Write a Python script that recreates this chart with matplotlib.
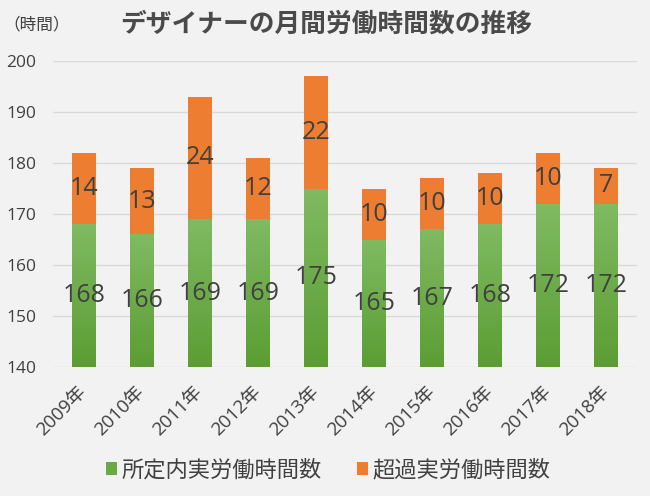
import matplotlib
matplotlib.use("Agg")
import matplotlib.pyplot as plt
import numpy as np
from matplotlib.colors import LinearSegmentedColormap

plt.rcParams['font.family'] = ['Noto Sans CJK JP', 'DejaVu Sans']

years = ['2009年', '2010年', '2011年', '2012年', '2013年', '2014年', '2015年', '2016年', '2017年', '2018年']
regular = [168, 166, 169, 169, 175, 165, 167, 168, 172, 172]
overtime = [14, 13, 24, 12, 22, 10, 10, 10, 10, 7]

bg = '#f2f2f2'
txt = '#404040'
green = '#6aaa42'
orange = '#ed7d31'
ymin = 140
num_font = ['Open Sans', 'Noto Sans CJK JP']

fig = plt.figure(figsize=(6.5, 4.96), dpi=100, facecolor=bg)
ax = fig.add_axes([0.0815, 0.26, 0.8985, 0.617], facecolor=bg)

x = np.arange(len(years))
w = 0.41
base = [r - ymin for r in regular]
g = ax.bar(x, base, w, bottom=ymin, color=green, label='所定内実労働時間数', zorder=2)
o = ax.bar(x, overtime, w, bottom=regular, color=orange, label='超過実労働時間数', zorder=2)

# green gradient, lighter at the top
cmap = LinearSegmentedColormap.from_list('g', ['#5b9d33', '#80ba62'])
grad = np.linspace(0, 1, 256).reshape(-1, 1)
for bar in g:
    bx, by = bar.get_x(), bar.get_y()
    bw, bh = bar.get_width(), bar.get_height()
    im = ax.imshow(grad, cmap=cmap, origin='lower', aspect='auto',
                   extent=[bx, bx + bw, by, by + bh], zorder=2.5)
    im.set_clip_path(bar)

for i in range(len(years)):
    ax.text(x[i], (ymin + regular[i]) / 2, str(regular[i]), ha='center', va='center',
            fontsize=18, color=txt, zorder=4, family=num_font)
    ax.text(x[i], regular[i] + overtime[i] / 2, str(overtime[i]), ha='center', va='center',
            fontsize=18, color=txt, zorder=4, family=num_font)

ax.set_ylim(140, 200)
ax.set_yticks(range(140, 201, 10))
ax.set_xlim(-0.53, 9.53)
ax.set_xticks(x)
ax.set_xticklabels(years, rotation=45, ha='right', va='center', rotation_mode='anchor')
for lab in ax.get_xticklabels() + ax.get_yticklabels():
    lab.set_family(num_font)
ax.tick_params(axis='both', length=0, labelsize=12.5, colors=txt)
ax.tick_params(axis='x', pad=16, labelsize=13.5)
ax.tick_params(axis='y', pad=12)
ax.grid(axis='y', color='#d9d9d9', linewidth=1, zorder=0)
for s in ax.spines.values():
    s.set_visible(False)

fig.text(0.502, 0.952, 'デザイナーの月間労働時間数の推移', ha='center', va='center',
         fontsize=18.5, fontweight='bold', color='#4a4a4a')
fig.text(0.005, 0.95, '（時間）', ha='left', va='center', fontsize=12, color=txt)

leg = fig.legend(handles=[g, o], loc='center', bbox_to_anchor=(0.505, 0.052), ncol=2,
                 frameon=False, fontsize=16, handlelength=0.5, handleheight=0.5,
                 handletextpad=0.2, columnspacing=1.6, labelcolor=txt)

fig.savefig('out.png', dpi=100, facecolor=bg)
